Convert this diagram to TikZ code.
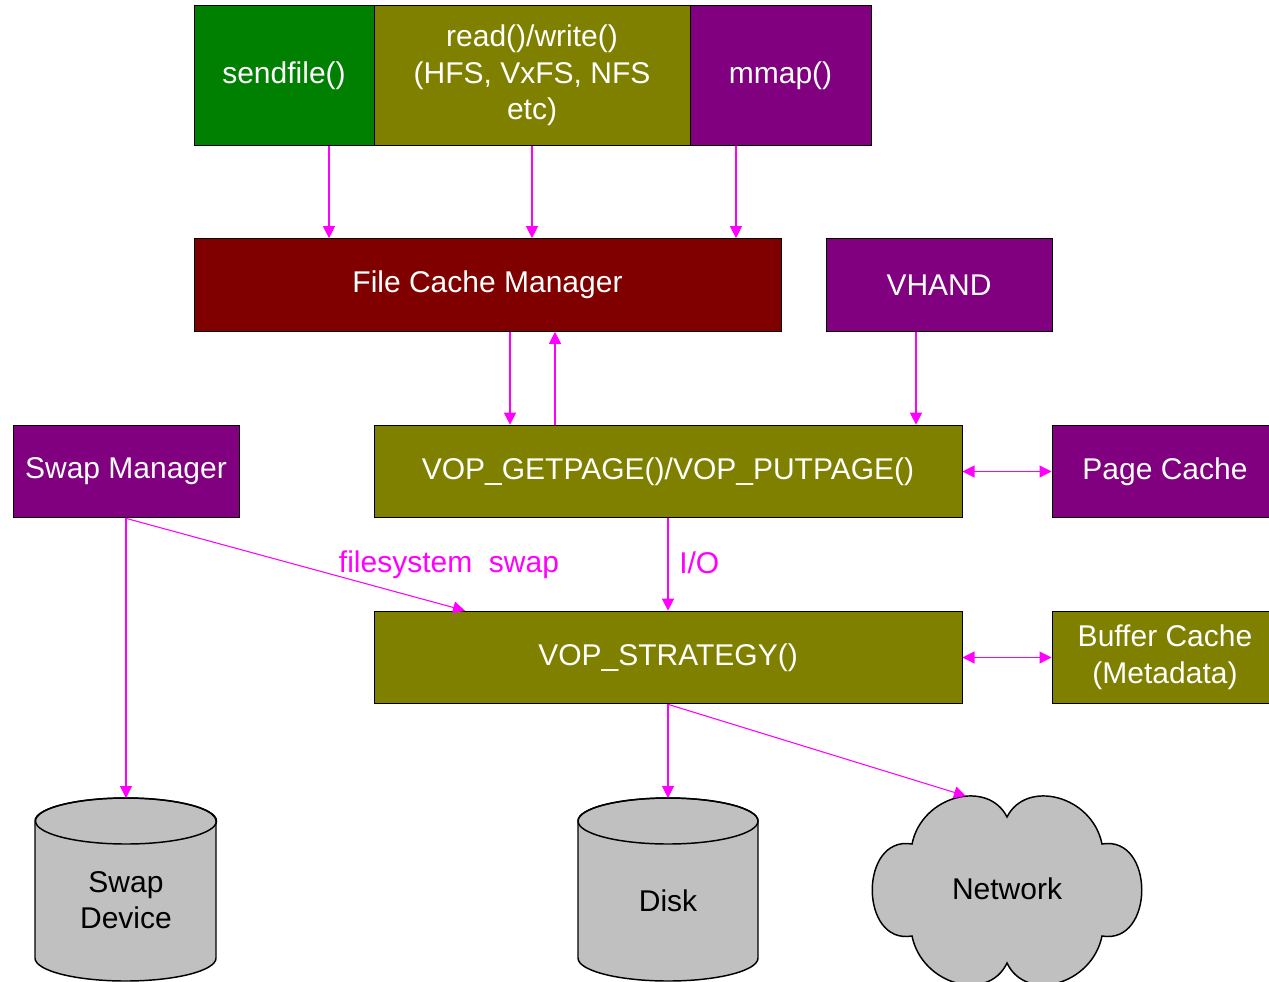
\documentclass[tikz,border=0pt]{standalone}
\usepackage{fontspec}
\setmainfont{Liberation Sans}
\usetikzlibrary{arrows.meta,calc}
\definecolor{cgreen}{RGB}{0,128,0}
\definecolor{colive}{RGB}{128,128,0}
\definecolor{cpurple}{RGB}{128,0,128}
\definecolor{cmaroon}{RGB}{128,0,0}
\definecolor{cgray}{RGB}{192,192,192}
\definecolor{cmag}{RGB}{255,0,255}
\tikzset{
  box/.style={draw=black,line width=0.75pt,text=white,align=center,inner sep=0pt,
    font=\fontsize{22.5}{27.5}\selectfont},
  bigbox/.style={box,minimum height=104.25pt},
  midbox/.style={box,minimum height=69.5pt},
  arr/.style={draw=cmag,line width=0.8pt,-{Triangle[length=9pt,width=9pt]}},
  darr/.style={draw=cmag,line width=0.8pt,{Triangle[length=9pt,width=9pt]}-{Triangle[length=9pt,width=9pt]}},
  shapefill/.style={fill=cgray,draw=black,line width=1.1pt},
  dark/.style={text=black,align=center,font=\fontsize{22.5}{27.5}\selectfont},
  lbl/.style={text=cmag,font=\fontsize{22.5}{27.5}\selectfont,inner sep=0pt}
}
\begin{document}
\begin{tikzpicture}[x=0.75pt,y=-0.75pt]
\useasboundingbox (0,0) rectangle (1269,981);
% top row
\node[bigbox,fill=cgreen,minimum width=135pt] (send) at (284,75.5) {sendfile()};
\node[bigbox,fill=colive,minimum width=237pt] (rw) at (532,75.5) {read()/write()\\(HFS, VxFS, NFS\\etc)};
\node[bigbox,fill=cpurple,minimum width=135.75pt] (mmap) at (780.5,75.5) {mmap()};
% second row
\node[midbox,fill=cmaroon,minimum width=440.25pt] (fcm) at (487.5,285) {File Cache Manager};
\node[midbox,fill=cpurple,minimum width=169.5pt] (vhand) at (939,285) {VHAND};
% third row
\node[midbox,fill=cpurple,minimum width=169.5pt] (swapmgr) at (126,471.5) {Swap Manager};
\node[midbox,fill=colive,minimum width=441pt] (getpage) at (668,471.5) {VOP\_GETPAGE()/VOP\_PUTPAGE()};
\node[midbox,fill=cpurple,minimum width=199.5pt] (pagecache) at (1185,471.5) {Page Cache\hspace*{30pt}};
% fourth row
\node[midbox,fill=colive,minimum width=441pt] (strat) at (668,657.5) {VOP\_STRATEGY()};
\node[midbox,fill=colive,minimum width=199.5pt] (bufcache) at (1185,657.5) {Buffer Cache\hspace*{30pt}\\(Metadata)\hspace*{30pt}};
% cylinders
\path[shapefill] (35,821) -- (35,958) arc[start angle=180,end angle=360,x radius=67.875pt,y radius=17.25pt] -- (216,821) arc[start angle=0,end angle=180,x radius=67.875pt,y radius=17.25pt] -- cycle;
\draw[line width=1.1pt] (126,821) ellipse [x radius=67.875pt,y radius=17.25pt];
\coordinate (swaptop) at (126,798);
\node[dark] (swapdev) at (126,900) {Swap\\Device};
\path[shapefill] (578,821) -- (578,958) arc[start angle=180,end angle=360,x radius=67.5pt,y radius=17.25pt] -- (758,821) arc[start angle=0,end angle=180,x radius=67.5pt,y radius=17.25pt] -- cycle;
\draw[line width=1.1pt] (668,821) ellipse [x radius=67.5pt,y radius=17.25pt];
\coordinate (disktop) at (668,798);
\node[dark] (disk) at (668,901) {Disk};
% cloud
\path[shapefill] (912,844) .. controls (922,795) and (988,779) .. (1007,817)
  .. controls (1026,779) and (1092,795) .. (1102,844)
  .. controls (1155,835) and (1155,945) .. (1102,936)
  .. controls (1092,985) and (1026,1003) .. (1007,963)
  .. controls (988,1003) and (922,985) .. (912,936)
  .. controls (859,945) and (859,835) .. cycle;
\coordinate (nettop) at (966,796);
\node[dark] (net) at (1007,889) {Network};
% arrows
\draw[arr] ([xshift=33.75pt]send.south) coordinate (a1) -- (a1 |- fcm.north);
\draw[arr] (rw.south) -- (rw.south |- fcm.north);
\draw[arr] ([xshift=-33.375pt]mmap.south) coordinate (a2) -- (a2 |- fcm.north);
\draw[arr] ([xshift=16.875pt]fcm.south) coordinate (a3) -- (a3 |- getpage.north);
\draw[arr] ([xshift=-84.75pt]getpage.north) coordinate (a4) -- (a4 |- fcm.south);
\draw[arr] ([xshift=-17.25pt]vhand.south) coordinate (a5) -- (a5 |- getpage.north);
\draw[darr] (getpage.east) -- (pagecache.west);
\draw[darr] (strat.east) -- (bufcache.west);
\draw[arr] (swapmgr.south) -- (swaptop);
\draw[arr] (swapmgr.south) -- ([xshift=-152.25pt]strat.north);
\draw[arr] (getpage.south) -- (strat.north);
\draw[arr] (strat.south) -- (disktop);
\draw[arr] (strat.south) -- (nettop);
% labels
\node[lbl] (lfs) at (449,565) {filesystem\ \ swap};
\node[lbl,anchor=west] (lio) at (679,563) {I/O};
\end{tikzpicture}
\end{document}
